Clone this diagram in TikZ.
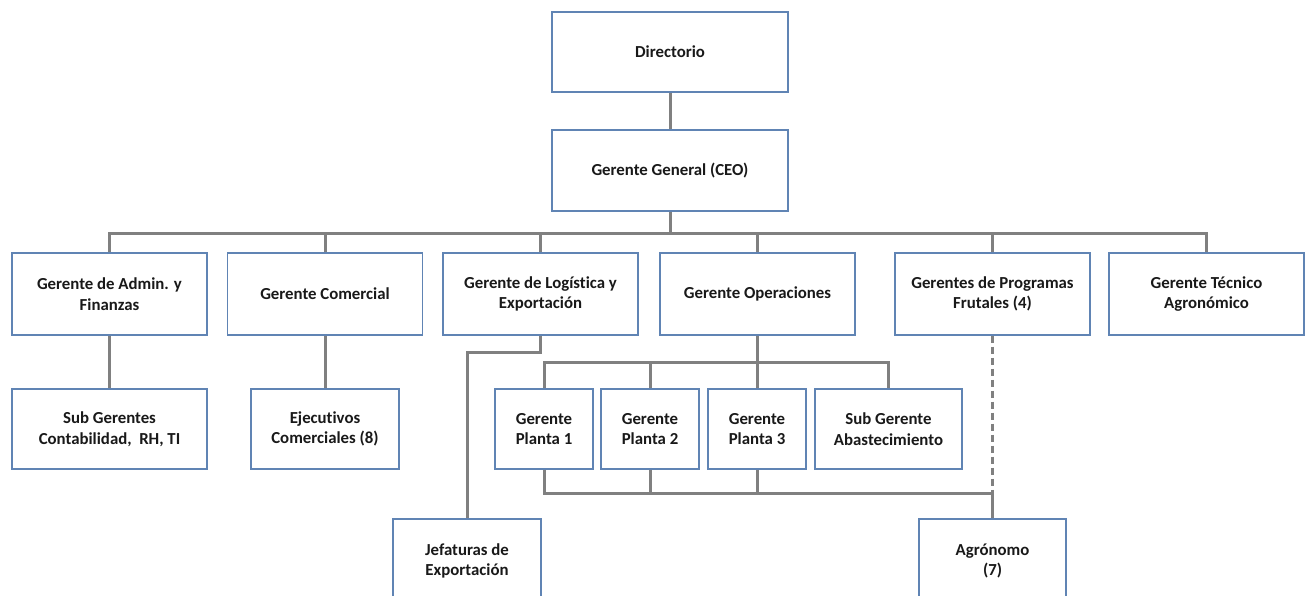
\documentclass[tikz,border=0pt]{standalone}
\usepackage{fontspec}
\setmainfont{Carlito}[Ligatures=NoCommon]
\begin{document}
\begin{tikzpicture}[x=1pt,y=-1pt,
  orgbox/.style={draw=boxblue, line width=1.2pt, fill=white, align=center,
    font=\fontsize{16.8}{20.5}\selectfont\bfseries, text=black!90,
    minimum width=195pt, minimum height=82pt, inner sep=2pt},
  link/.style={draw=linkgray, line width=3pt},
  dotted link/.style={link, dash pattern=on 7pt off 4pt}]
\definecolor{boxblue}{RGB}{96,132,180}
\definecolor{linkgray}{RGB}{128,128,128}
\useasboundingbox (0,0) rectangle (1306,596);
\clip (0,0) rectangle (1306,596);

% top levels
\node[orgbox, minimum width=236pt, minimum height=80pt] (dir) at (670,52) {Directorio};
\node[orgbox, minimum width=236pt, minimum height=81pt] (ceo) at (670,170.5) {Gerente General (CEO)};

% managers
\node[orgbox] (adm)  at (109.5,294) {Gerente de Admin. y\\Finanzas};
\node[orgbox] (com)  at (325,294)   {Gerente Comercial};
\node[orgbox] (log)  at (540.5,294) {Gerente de Logística y\\Exportación};
\node[orgbox] (ope)  at (757.5,294) {Gerente Operaciones};
\node[orgbox] (prog) at (992.5,294) {Gerentes de Programas\\Frutales (4)};
\node[orgbox] (tec)  at (1206.5,294) {Gerente Técnico\\Agronómico};

% third level
\node[orgbox, minimum height=80pt] (sub) at (109.5,429) {Sub Gerentes\\Contabilidad,\ \ RH, TI};
\node[orgbox, minimum width=148pt, minimum height=80pt] (eje) at (325,429) {Ejecutivos\\Comerciales (8)};
\node[orgbox, minimum width=98pt, minimum height=80pt] (p1) at (544,429) {Gerente\\Planta 1};
\node[orgbox, minimum width=98pt, minimum height=80pt] (p2) at (650,429) {Gerente\\Planta 2};
\node[orgbox, minimum width=98pt, minimum height=80pt] (p3) at (757,429) {Gerente\\Planta 3};
\node[orgbox, minimum width=147pt, minimum height=80pt] (abs) at (888.5,429) {Sub Gerente\\Abastecimiento};

% bottom level
\node[orgbox, minimum width=148pt, minimum height=84pt] (jef) at (467,561) {Jefaturas de\\Exportación};
\node[orgbox, minimum width=147pt, minimum height=84pt] (agr) at (992.5,561) {Agrónomo\\(7)};

% junction points
\coordinate (bar)  at (670,233.5);
\coordinate (obar) at (757.5,362);
\coordinate (pbar) at (992.5,493);

% connectors
\draw[link] (dir.south) -- (ceo.north);
\draw[link] (ceo.south) -- (bar);
\draw[link] (adm.north) |- (bar) -| (tec.north);
\draw[link] (com.north) -- (com.north |- bar);
\draw[link] (log.north) -- (log.north |- bar);
\draw[link] (ope.north) -- (ope.north |- bar);
\draw[link] (prog.north) -- (prog.north |- bar);

\draw[link] (adm.south) -- (sub.north);
\draw[link] (com.south) -- (eje.north);
\draw[link] (log.south) -- ++(0,17) -| (jef.north);

\draw[link] (ope.south) -- (obar);
\draw[link] (p1.north) |- (obar) -| (abs.north);
\draw[link] (p2.north) -- (p2.north |- obar);
\draw[link] (p3.north) -- (p3.north |- obar);

\draw[link] (p1.south) |- (pbar);
\draw[link] (p2.south) -- (p2.south |- pbar);
\draw[link] (p3.south) -- (p3.south |- pbar);
\draw[link] (pbar) -- (agr.north);
\draw[dotted link] (prog.south) -- (pbar);
\end{tikzpicture}
\end{document}
